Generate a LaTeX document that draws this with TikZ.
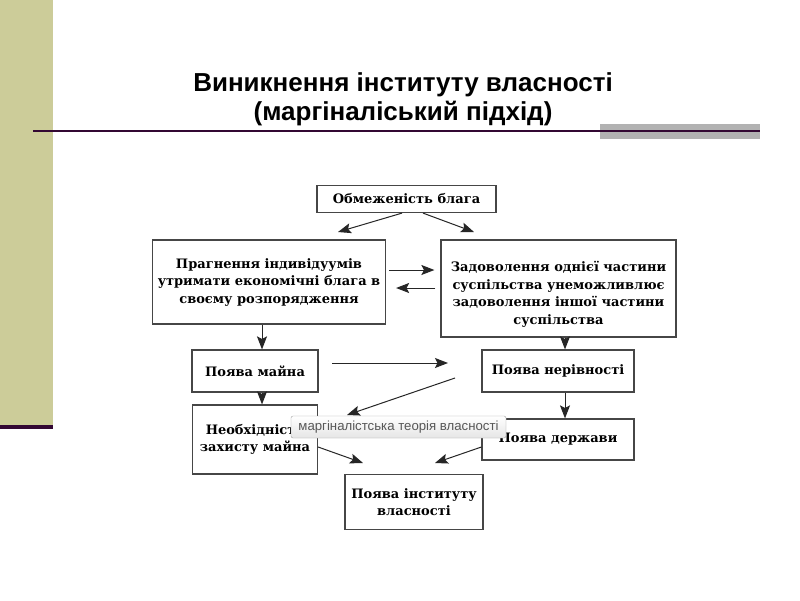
\documentclass[tikz,border=0pt]{standalone}
\usepackage{fontspec}
\setmainfont{Liberation Sans}
\newfontfamily\boxfont{DejaVu Serif}
\usetikzlibrary{arrows.meta}
\definecolor{khaki}{RGB}{204,204,153}
\definecolor{plum}{RGB}{51,8,51}
\definecolor{bargray}{RGB}{178,178,178}
\definecolor{tiptext}{RGB}{87,87,87}
\definecolor{tipborder}{RGB}{160,160,160}
\definecolor{boxline}{RGB}{70,70,70}
\begin{document}
\begin{tikzpicture}[x=1pt,y=-1pt,
  box/.style={draw=boxline, line width=1.2pt, fill=white, inner sep=0pt, align=center,
    font=\boxfont\bfseries\fontsize{13}{17.5}\selectfont},
  arr/.style={-{Stealth[length=13pt,width=10pt,inset=2.5pt]}, line width=1pt, draw=black!85},
  tip/.style={draw=tipborder, rounded corners=2pt, top color=white, bottom color=black!10,
    inner sep=0pt, text=tiptext, font=\fontsize{13.2}{15}\selectfont},
  titlestyle/.style={align=center, font=\bfseries\fontsize{26}{29}\selectfont}
]
\useasboundingbox (0,0) rectangle (800,600);
\fill[white] (0,0) rectangle (800,600);
% decoration
\fill[khaki] (0,0) rectangle (53,425);
\fill[plum] (0,425) rectangle (53,429);
\fill[bargray] (600,124) rectangle (760,139);
\draw[plum, line width=2pt] (33,131) -- (760,131);
\node[titlestyle] (title) at (403,99.5) {Виникнення інституту власності\\(маргіналіський підхід)};

% boxes
\node[box, minimum width=179pt, minimum height=27pt] (limit) at (406.5,199) {Обмеженість блага};
\node[box, minimum width=233pt, minimum height=84pt] (strive) at (269,282) {Прагнення індивідуумів\\утримати економічні блага в\\своєму розпорядження};
\node[box, minimum width=235pt, minimum height=97pt] (satisfy) at (558.5,288.5) {\rule{0pt}{22pt}Задоволення однієї частини\\суспільства унеможливлює\\задоволення іншої частини\\суспільства};
\node[box, minimum width=126pt, minimum height=42pt] (prop) at (255,371) {Поява майна};
\node[box, minimum width=152pt, minimum height=42pt] (ineq) at (558,371) {Поява нерівності};
\node[box, minimum width=125pt, minimum height=69pt] (protect) at (255,439.5) {Необхідність\\захисту майна};
\node[box, minimum width=152pt, minimum height=41pt] (state) at (558,439.5) {Поява держави};
\node[box, minimum width=138pt, minimum height=55pt] (inst) at (414,502) {Поява інституту\\власності};

% helper coordinates
\coordinate (t1) at (338,232);
\coordinate (t2) at (474,232);
\coordinate (y1) at (0,270);
\coordinate (y2) at (0,288);
\coordinate (y3) at (0,447);
\coordinate (xl) at (262,0);
\coordinate (xr) at (565,0);
\coordinate (h1) at (332,363);
\coordinate (h2) at (448,363);
\coordinate (d1) at (455,378);
\coordinate (d2) at (347,415);
\coordinate (e1) at (363,463);
\coordinate (e2) at (435,463);

% connectors
\draw[arr] ([xshift=-4.5pt]limit.south) -- (t1);
\draw[arr] ([xshift=16.5pt]limit.south) -- (t2);
\draw[arr, shorten <=3pt, shorten >=6pt] (strive.east |- y1) -- (satisfy.west |- y1);
\draw[arr, shorten <=5pt, shorten >=10pt] (satisfy.west |- y2) -- (strive.east |- y2);
\draw[arr] (strive.south -| xl) -- (prop.north -| xl);
\draw[arr] (satisfy.south -| xr) -- (ineq.north -| xr);
\draw[arr] (prop.south -| xl) -- (protect.north -| xl);
\draw[arr] (ineq.south -| xr) -- (state.north -| xr);
\draw[arr] (h1) -- (h2);
\draw[arr] (d1) -- (d2);
\draw[arr] (protect.east |- y3) -- (e1);
\draw[arr] (state.west |- y3) -- (e2);

% tooltip
\node[tip, minimum width=215pt, minimum height=22pt] (tooltip) at (398.5,427) {маргіналістська теорія власності};
\end{tikzpicture}
\end{document}
